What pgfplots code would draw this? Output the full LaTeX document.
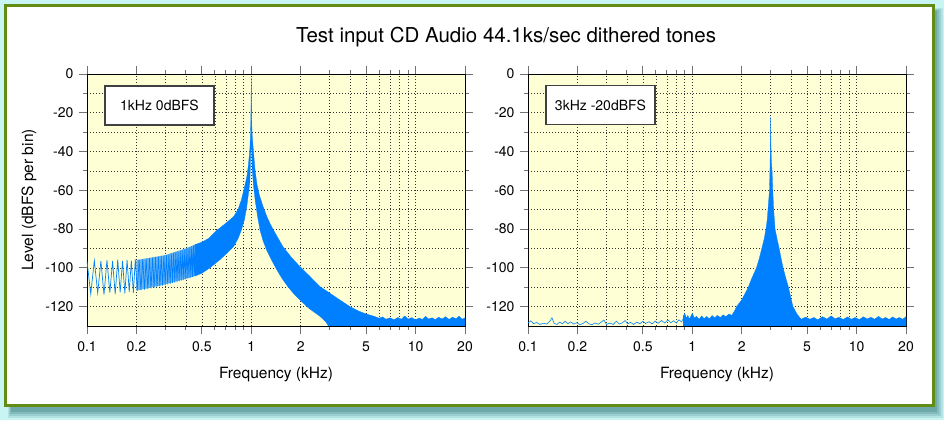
\documentclass[border=0pt]{standalone}
\usepackage{pgfplots}
\pgfplotsset{compat=1.18}
\usepackage{fontspec}
\setmainfont{TeX Gyre Heros}
\definecolor{specblue}{RGB}{0,128,255}
\definecolor{plotbg}{RGB}{255,255,213}
\definecolor{framegreen}{RGB}{98,140,20}
\definecolor{bgcyan}{RGB}{200,244,244}
\definecolor{shadowc}{RGB}{60,130,130}
\pgfplotsset{
  panel/.style={
    anchor=south west, scale only axis, width=378pt, height=252pt,
    xmin=0.1, xmax=20, ymin=-130, ymax=0,
    axis background/.style={fill=plotbg},
    xtick={0.1,0.2,0.5,1,2,5,10,20},
    xticklabels={0.1,0.2,0.5,1,2,5,10,20},
    minor xtick={0.3,0.4,0.6,0.7,0.8,0.9,3,4,6,7,8,9},
    ytick={-120,-100,-80,-60,-40,-20,0},
    yticklabels={-120,-100,-80,-60,-40,-20,0},
    minor ytick={-110,-90,-70,-50,-30,-10},
    grid=both,
    major grid style={black!80, line width=0.6pt, dash pattern=on 0.8pt off 2.2pt},
    minor grid style={black!80, line width=0.6pt, dash pattern=on 0.8pt off 2.2pt},
    tick align=outside, major tick length=8pt, minor tick length=4pt,
    every tick/.style={black!55, line width=0.9pt},
    axis line style={black, line width=0.9pt},
    tick label style={font=\fontsize{14}{16}\selectfont},
    xticklabel style={yshift=-4pt},
    yticklabel style={xshift=-2pt},
    xlabel={Frequency (kHz)},
    every axis x label/.style={at={(axis description cs:0.5,0)}, anchor=base, yshift=-52pt,
      font=\fontsize{15.5}{18}\selectfont},
  }
}
\begin{document}
\begin{tikzpicture}
\useasboundingbox (0pt,0pt) rectangle (944pt,420pt);
\fill[bgcyan] (0pt,0pt) rectangle (944pt,420pt);
\fill[shadowc, opacity=0.15] (8pt,2pt) rectangle (943pt,412pt);
\fill[shadowc, opacity=0.2] (9pt,4pt) rectangle (941pt,411pt);
\fill[shadowc, opacity=0.25] (10pt,6pt) rectangle (939pt,410pt);
\fill[shadowc, opacity=0.3] (11pt,8pt) rectangle (937pt,409pt);
\draw[framegreen, line width=3pt, fill=white] (5.5pt,15pt) rectangle (933.5pt,414.5pt);
\node[anchor=base, font=\fontsize{20.5}{24}\selectfont] at (506pt,377pt) {Test input CD Audio 44.1ks/sec dithered tones};
\node[anchor=base, rotate=90, font=\fontsize{15.5}{18}\selectfont] at (33pt,220pt) {Level (dBFS per bin)};

\begin{axis}[xmode=log, panel, at={(87pt,94pt)}]
% dense zigzag region (lighter)
\addplot[draw=none, fill=specblue!60!plotbg] coordinates {
(0.2,-96) (0.3,-93.4) (0.4,-90) (0.46,-87.8) (0.46,-104.2) (0.4,-105.6) (0.3,-108.5) (0.2,-111.8)
} -- cycle;
% low-frequency zigzag
\addplot[specblue, line width=0.7pt] coordinates {
(0.1000,-96.5) (0.1054,-113.5) (0.1108,-96.3) (0.1162,-113.0) (0.1215,-96.5) (0.1269,-113.8)
(0.1323,-96.0) (0.1377,-112.8) (0.1431,-96.6) (0.1485,-113.5) (0.1538,-95.8) (0.1592,-112.6)
(0.1646,-96.4) (0.1700,-113.2) (0.1754,-95.9) (0.1808,-112.4) (0.1862,-96.3) (0.1915,-112.9)
(0.1969,-95.7) (0.2023,-111.8) (0.2077,-95.8) (0.2130,-111.5) (0.2184,-95.5) (0.2238,-111.2)
(0.2292,-95.3) (0.2346,-110.9) (0.2400,-95.0) (0.2453,-110.6) (0.2507,-94.8) (0.2561,-110.3)
(0.2615,-94.5) (0.2669,-110.0) (0.2723,-94.3) (0.2777,-109.6) (0.2830,-94.0) (0.2884,-109.2)
(0.2938,-93.7) (0.2992,-108.9) (0.3046,-93.4) (0.3100,-108.5) (0.3153,-93.0) (0.3207,-108.2)
(0.3261,-92.6) (0.3315,-107.9) (0.3369,-92.2) (0.3423,-107.6) (0.3476,-91.8) (0.3530,-107.3)
(0.3584,-91.5) (0.3638,-107.0) (0.3692,-91.1) (0.3746,-106.6) (0.3799,-90.7) (0.3853,-106.3)
(0.3907,-90.4) (0.3961,-106.0) (0.4015,-90.0) (0.4068,-105.6) (0.4122,-89.6) (0.4176,-105.3)
(0.4230,-89.2) (0.4284,-105.0) (0.4338,-88.8) (0.4391,-104.6) (0.4445,-88.4) (0.4499,-104.2)
(0.4553,-88.0)
};
% main band
\addplot[draw=specblue, line width=0.3pt, fill=specblue] coordinates {
(0.455,-88.0) (0.5,-86.8) (0.55,-84.8) (0.62,-80.5) (0.7,-77) (0.78,-73.6) (0.83,-70) (0.87,-65)
(0.9,-60) (0.94,-53) (0.96,-47) (0.98,-39) (0.99,-30) (0.995,-20) (0.998,-10) (1.0,-2)
(1.003,-15) (1.008,-27) (1.015,-33) (1.03,-39) (1.05,-48) (1.08,-56.4) (1.12,-62.5) (1.18,-68.4)
(1.25,-74) (1.33,-78.8) (1.44,-84) (1.56,-89.1) (1.75,-94.5) (1.98,-99.4) (2.25,-104) (2.62,-109.7)
(3.0,-113) (3.45,-116.5) (3.98,-120) (4.5,-122.3) (5.0,-123.8) (5.6,-125)
(6.0,-126) (6.3,-125.3) (6.6,-126.5) (7,-125.8)
(7.4,-126.8) (7.8,-125.6) (8.2,-126.5) (8.6,-124.8) (9,-126.4) (9.5,-125.7) (10,-126.8)
(10.5,-125.9) (11,-126.6) (11.5,-125) (12,-126.4) (12.6,-125.8) (13.2,-126.7) (13.8,-125.5)
(14.5,-126.4) (15.2,-125.2) (16,-126.6) (16.8,-125.4) (17.6,-126.3) (18.4,-124.9) (19.2,-126.5)
(20,-125.8) (20,-132) (3.0,-132)
(3.0,-131) (2.85,-128) (2.62,-125) (2.25,-121) (1.98,-116.6) (1.82,-113.5) (1.67,-109.7)
(1.54,-105.5) (1.43,-101) (1.33,-96) (1.24,-90.8) (1.18,-86) (1.13,-80.5) (1.09,-73)
(1.056,-65) (1.03,-57) (1.014,-49.5) (1.005,-38)
(0.995,-38) (0.99,-44) (0.98,-56) (0.96,-62) (0.94,-68) (0.91,-75) (0.87,-80.5) (0.83,-85)
(0.78,-89) (0.72,-92) (0.64,-96) (0.56,-100) (0.5,-102.8) (0.455,-104.2)
} -- cycle;
\end{axis}

\begin{axis}[xmode=log, panel, at={(528pt,94pt)}]
\addplot[specblue, line width=0.6pt] coordinates {
(0.1,-128.5) (0.104,-127.3) (0.108,-128.8) (0.113,-128.2) (0.118,-129.2) (0.124,-128.6)
(0.13,-129) (0.136,-127.5) (0.14,-125.8) (0.144,-128.6) (0.15,-129.2) (0.156,-128)
(0.162,-128.9) (0.168,-127.6) (0.175,-128.8) (0.182,-127.9) (0.19,-129) (0.198,-128.3)
(0.207,-129.3) (0.216,-128.7) (0.225,-127.6) (0.235,-128.9) (0.245,-129.3) (0.256,-128.4)
(0.268,-129.1) (0.28,-127.9) (0.29,-126.9) (0.3,-129.2) (0.315,-128.5) (0.33,-129.2)
(0.345,-127.5) (0.36,-129) (0.375,-128.4) (0.39,-127.2) (0.405,-128.9) (0.42,-128.1)
(0.44,-129.2) (0.46,-128) (0.48,-128.8) (0.5,-127.6) (0.52,-128.7) (0.545,-127.8)
(0.57,-128.9) (0.595,-127.5) (0.62,-128.6) (0.65,-127.2) (0.68,-128.4) (0.71,-126.9)
(0.74,-128.3) (0.77,-127.3) (0.8,-128.5) (0.83,-126.8) (0.86,-127.9) (0.89,-125.5)
};
\addplot[draw=specblue, line width=0.3pt, fill=specblue] coordinates {
(0.88,-132) (0.88,-125) (0.9,-123.5) (0.92,-126) (0.94,-124.5) (0.96,-126.5) (0.98,-125)
(1.0,-123.5) (1.03,-126) (1.06,-125) (1.1,-126.5) (1.14,-124.8) (1.18,-126.2) (1.22,-125)
(1.27,-126.3) (1.32,-124.6) (1.37,-125.8) (1.42,-124.5) (1.48,-125.6) (1.54,-124.2)
(1.6,-125.2) (1.67,-123.8) (1.74,-124.5) (1.8,-122.5) (1.86,-120)
(2.0,-116.5) (2.18,-110.5) (2.3,-105.5) (2.46,-100) (2.56,-95) (2.65,-90) (2.74,-85) (2.81,-80)
(2.86,-75) (2.89,-70) (2.95,-60) (2.97,-50) (2.99,-35) (3.0,-22)
(3.01,-35) (3.03,-45) (3.06,-50) (3.09,-60) (3.13,-70) (3.19,-80) (3.28,-85) (3.38,-90)
(3.47,-95) (3.57,-100) (3.7,-105) (3.85,-110) (3.97,-115) (4.1,-120) (4.35,-124) (4.6,-126.5)
(4.9,-125.4) (5.2,-126.5) (5.5,-125.6) (5.8,-126.8) (6.2,-125.2) (6.6,-126.4)
(7.0,-124.8) (7.4,-126.3) (7.8,-125.5) (8.3,-126.6) (8.8,-125.3) (9.3,-126.5) (9.8,-125.6)
(10.4,-126.7) (11,-125.2) (11.6,-126.4) (12.2,-125.5) (12.9,-126.5) (13.6,-125) (14.3,-126.4)
(15,-125.6) (15.8,-126.6) (16.6,-125.3) (17.4,-126.4) (18.2,-125.6) (19.1,-126.5) (20,-125.2)
(20,-132)
} -- cycle;
\end{axis}

\node[draw=black!75, line width=1.3pt, fill=white, minimum width=109pt, minimum height=39pt,
  inner sep=0pt, font=\fontsize{14}{16}\selectfont] at (159.5pt,314.5pt) {1kHz 0dBFS};
\node[draw=black!75, line width=1.3pt, fill=white, minimum width=109pt, minimum height=39pt,
  inner sep=0pt, font=\fontsize{14}{16}\selectfont] at (600.5pt,315pt) {3kHz -20dBFS};
\end{tikzpicture}
\end{document}
